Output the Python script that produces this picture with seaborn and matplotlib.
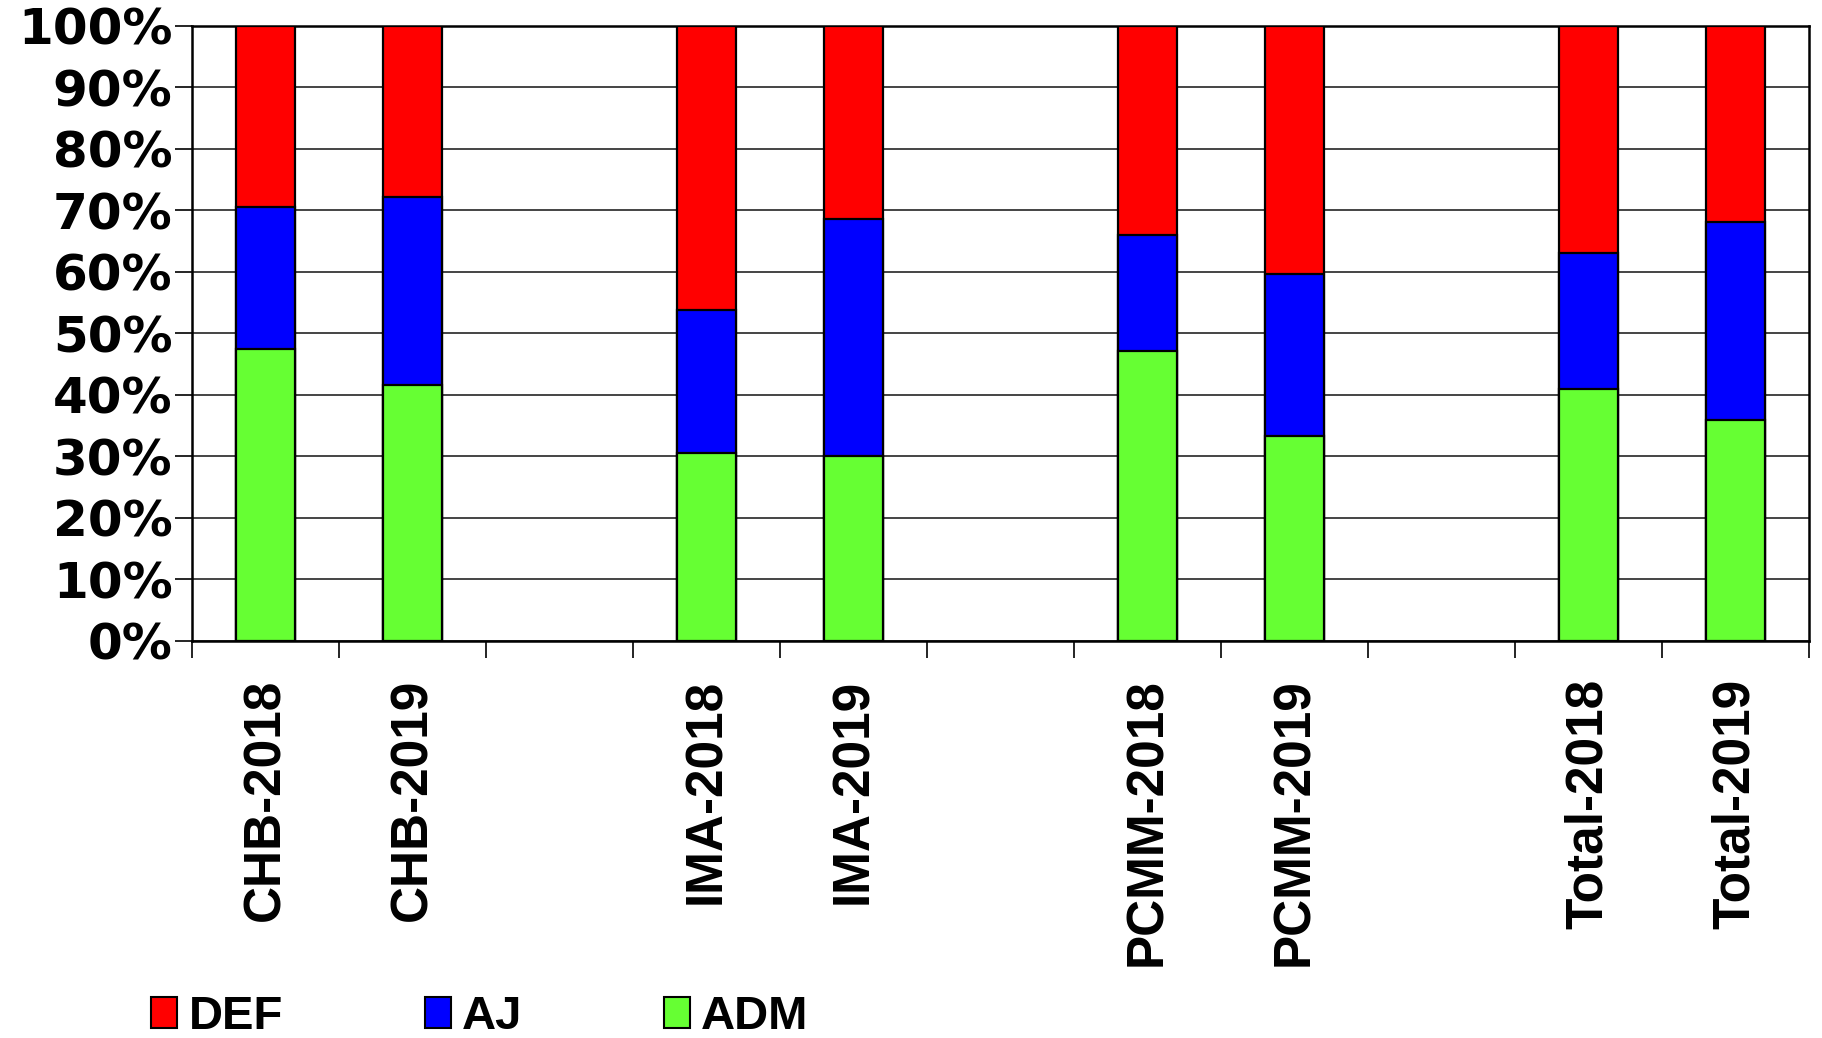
import matplotlib
matplotlib.use("Agg")
import matplotlib.pyplot as plt
import matplotlib.patches as mpatches
import numpy as np
import pandas as pd
import seaborn as sns

# values (percent)
categories = ["CHB-2018", "CHB-2019", "IMA-2018", "IMA-2019",
              "PCMM-2018", "PCMM-2019", "Total-2018", "Total-2019"]
adm = [47.4, 41.6, 30.6, 30.0, 47.1, 33.3, 40.9, 35.9]
aj = [23.1, 30.6, 23.2, 38.6, 18.9, 26.3, 22.2, 32.2]
def_ = [29.5, 27.8, 46.2, 31.4, 34.0, 40.4, 36.9, 31.9]

# empty slots between the groups
order = ["CHB-2018", "CHB-2019", " ", "IMA-2018", "IMA-2019", "  ",
         "PCMM-2018", "PCMM-2019", "   ", "Total-2018", "Total-2019"]

df = pd.DataFrame({"cat": categories, "ADM": adm, "AJ": aj, "DEF": def_})
df["top_aj"] = df["ADM"] + df["AJ"]
df["top_def"] = df["top_aj"] + df["DEF"]

colors = {"DEF": "#FF0000", "AJ": "#0000FF", "ADM": "#66FF33"}

sns.set_style("white")
plt.rcParams["font.family"] = ["Liberation Sans", "DejaVu Sans"]
plt.rcParams["font.weight"] = "bold"
plt.rcParams["text.color"] = "black"
plt.rcParams["xtick.color"] = "black"
plt.rcParams["ytick.color"] = "black"

fig = plt.figure(figsize=(18.22, 10.38), dpi=100)
ax = fig.add_axes([0.1054, 0.3825, 0.8875, 0.5925])

for col, key in [("top_def", "DEF"), ("top_aj", "AJ"), ("ADM", "ADM")]:
    sns.barplot(data=df, x="cat", y=col, order=order, color=colors[key],
                saturation=1, width=0.4, edgecolor="black", linewidth=1.6,
                errorbar=None, ax=ax, zorder=3)

ax.set_ylim(0, 100)
ax.set_xlim(-0.5, len(order) - 0.5)
ax.set_yticks(np.arange(0, 101, 10))
ax.set_yticklabels([f"{v}%" for v in range(0, 101, 10)], fontsize=36,
                   fontweight="bold", family="DejaVu Sans")
ax.yaxis.grid(True, color="#444444", linewidth=1.4, zorder=0)
ax.set_axisbelow(True)

# ticks on slot boundaries, labels in the middle of the slots
ax.set_xticks(np.arange(-0.5, len(order), 1))
ax.set_xticklabels([])
ax.set_xticks(np.arange(len(order)), [o.strip() for o in order], minor=True)
ax.tick_params(axis="x", which="major", direction="out", length=12,
               width=1.2, bottom=True)
ax.tick_params(axis="x", which="minor", length=0, pad=27, labelsize=37,
               labelrotation=90)
for lbl in ax.get_xticklabels(minor=True):
    lbl.set_fontweight("bold")
    lbl.set_va("top")
ax.tick_params(axis="y", direction="out", length=12, width=1.2, pad=2,
               left=True)

for s in ax.spines.values():
    s.set_color("black")
    s.set_linewidth(1.8)
ax.set_xlabel("")
ax.set_ylabel("")

handles = [mpatches.Patch(facecolor=colors[k], edgecolor="black", linewidth=1.5)
           for k in ["DEF", "AJ", "ADM"]]
fig.legend(handles, ["DEF", "AJ", "ADM"], loc="center left",
           bbox_to_anchor=(0.083, 0.02), ncol=3, frameon=False,
           prop={"size": 34, "weight": "bold"}, handlelength=0.55,
           handleheight=0.62, handletextpad=0.24, columnspacing=3.0,
           borderpad=0, borderaxespad=0)

fig.savefig("out.png", dpi=100)
